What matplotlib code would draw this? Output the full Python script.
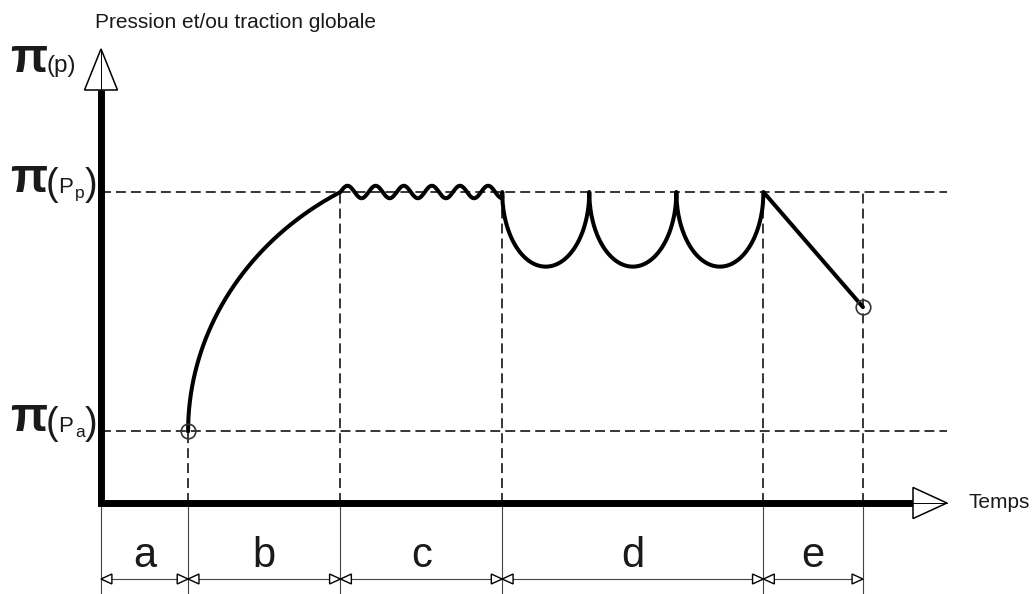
import matplotlib
matplotlib.use('Agg')
import matplotlib.pyplot as plt
from matplotlib.patches import Polygon
import numpy as np

plt.rcParams['font.family'] = ['Liberation Sans', 'DejaVu Sans']
plt.rcParams['text.color'] = '#1a1a1a'

# phase boundaries on the time axis (arbitrary units) and their labels
phase_edges = [0, 28, 77, 129, 213, 245]
phase_labels = ['a', 'b', 'c', 'd', 'e']

# pressure levels (arbitrary units)
level_pa = 23        # initial pressure
level_pp = 100       # plateau pressure
scallop_low = 76     # bottom of the pulsed cycles in d
final_value = 63     # end of the release in e

n_ripples = 5.75     # ripples on the plateau (phase c)
ripple_amp = 2.0
n_cycles = 3         # pulsed cycles (phase d)

# axis extents
t_max = 272
p_max = 146

S = 3.11             # pixels per unit
X0, Y0 = 101, 503    # origin in pixels
W, H = 1034, 594


def at(px, py):
    """pixel layout position -> data coords"""
    return (px - X0) / S, (Y0 - py) / S


fig = plt.figure(figsize=(W / 100, H / 100), dpi=100)
ax = fig.add_axes([0, 0, 1, 1])
ax.set_xlim(-X0 / S, (W - X0) / S)
ax.set_ylim((Y0 - H) / S, Y0 / S)
ax.axis('off')

dash = dict(color='black', lw=1.1, ls=(0, (6.5, 3.3)), zorder=1)
thin = dict(color='#444444', lw=0.8, zorder=1)

# reference levels
for lv in (level_pa, level_pp):
    ax.plot([0, t_max], [lv, lv], **dash)
# phase boundaries above the axis
ax.plot([phase_edges[1]] * 2, [0, level_pa], **dash)
for x in phase_edges[2:]:
    ax.plot([x, x], [0, level_pp], **dash)

# extension lines and dimension line below the axis
y_bot = (Y0 - H) / S
y_dim = at(0, 579)[1]
for x in phase_edges:
    ax.plot([x, x], [0, y_bot], **thin)
ax.plot([phase_edges[0], phase_edges[-1]], [y_dim, y_dim], **thin)

hl, hw = 3.5, 1.6
for x0, x1, lab in zip(phase_edges[:-1], phase_edges[1:], phase_labels):
    for tip, d in ((x0, 1), (x1, -1)):
        ax.add_patch(Polygon([(tip, y_dim), (tip + d * hl, y_dim + hw), (tip + d * hl, y_dim - hw)],
                             closed=True, fc='white', ec='black', lw=1.0, zorder=3))
    ax.text((x0 + x1) / 2, at(0, 567)[1], lab, fontsize=30, ha='center', va='baseline')

# main axes with open arrowheads
y_base = at(0, 90)[1]
x_base = at(913, 0)[0]
ax.plot([0, 0, x_base], [y_base, 0, 0], color='black', lw=5, solid_joinstyle='miter',
        solid_capstyle='butt', zorder=4)
ax.add_patch(Polygon([(0, p_max), (-5.3, y_base), (5.3, y_base)], closed=True,
                     fc='white', ec='black', lw=1.1, zorder=4))
ax.plot([0, 0], [y_base, p_max], color='black', lw=0.7, zorder=5)
ax.add_patch(Polygon([(t_max, 0), (x_base, 5), (x_base, -5)], closed=True,
                     fc='white', ec='black', lw=1.1, zorder=4))
ax.plot([x_base, t_max], [0, 0], color='black', lw=0.7, zorder=5)

# b: rise from the initial to the plateau pressure (elliptic arc)
a_semi = 2 * (phase_edges[2] - phase_edges[1])
cx = phase_edges[1] + a_semi
b_semi = (level_pp - level_pa) / np.sin(np.pi / 3)
t = np.linspace(0, np.pi / 3, 120)
xb = cx - a_semi * np.cos(t)
yb = level_pa + b_semi * np.sin(t)

# c: ripples on the plateau
xc = np.linspace(phase_edges[2], phase_edges[3], 400)
yc = level_pp + ripple_amp * np.sin(2 * np.pi * n_ripples * (xc - phase_edges[2]) /
                                    (phase_edges[3] - phase_edges[2]))
xc = np.append(xc, phase_edges[3])
yc = np.append(yc, level_pp)

# d: pulsed cycles
cw = (phase_edges[4] - phase_edges[3]) / n_cycles
xd, yd = [], []
for k in range(n_cycles):
    s = np.linspace(-1, 1, 200)
    xd.append(phase_edges[3] + cw * (k + (s + 1) / 2))
    yd.append(level_pp - (level_pp - scallop_low) * np.sqrt(np.clip(1 - s ** 2, 0, None)))
xd = np.concatenate(xd)
yd = np.concatenate(yd)

# e: release
xe = np.array([phase_edges[4], phase_edges[5]])
ye = np.array([level_pp, final_value])

curve_x = np.concatenate([xb, xc, xd, xe])
curve_y = np.concatenate([yb, yc, yd, ye])
ax.plot(curve_x, curve_y, color='black', lw=2.9, solid_capstyle='round',
        solid_joinstyle='round', zorder=3)

ax.plot([phase_edges[1], phase_edges[5]], [level_pa, final_value], 'o', ms=10.5,
        mfc='none', mec='#333333', mew=1.2, zorder=6)

# labels
ax.text(*at(95, 28), 'Pression et/ou traction globale', fontsize=15, va='baseline')
ax.text(*at(968, 508), 'Temps', fontsize=15, va='baseline')


def pi_label(py, sub=None):
    ax.text(*at(10, py), 'π', fontsize=35, fontweight='bold', va='baseline')
    if sub is None:
        ax.text(*at(46, py), '(p)', fontsize=17.5, va='baseline')
        return
    ax.text(*at(46, py + 3), '(', fontsize=27, va='baseline')
    ax.text(*at(58, py + 1), 'P', fontsize=16, va='baseline')
    ax.text(*at(75, py + 6), sub, fontsize=12.5, va='baseline')
    ax.text(*at(85, py + 3), ')', fontsize=27, va='baseline')


pi_label(72)
pi_label(Y0 - level_pp * S, 'p')
pi_label(Y0 - level_pa * S, 'a')

fig.savefig('out.png', dpi=100, facecolor='white')
